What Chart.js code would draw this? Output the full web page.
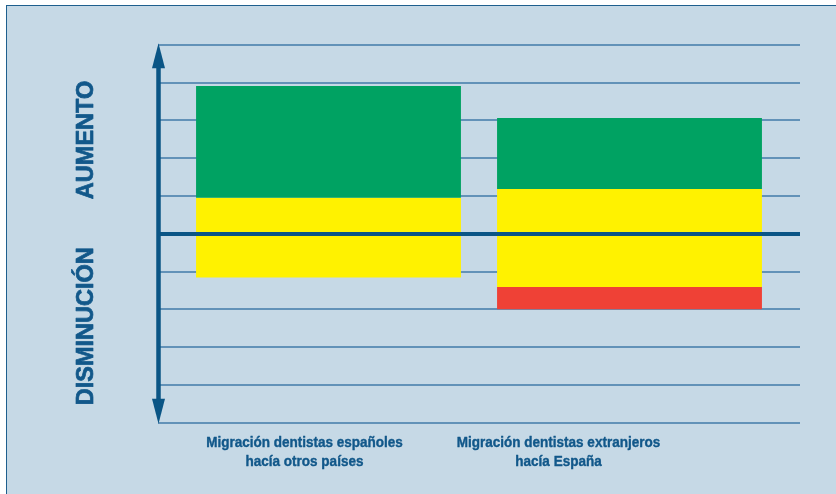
<!doctype html>
<html lang="es"><head><meta charset="utf-8">
<title>Migración de dentistas</title>
<script src="https://cdn.jsdelivr.net/npm/chart.js@4.4.0/dist/chart.umd.min.js"></script>
<style>
  html,body{margin:0;background:#fff}
  .wrap{position:absolute;left:0;top:0;width:836px;height:494px;overflow:hidden}
  .frame{position:absolute;left:6px;top:5px;width:840px;height:500px;background:#c6d9e6;border-left:1.5px solid #1e5f8e;border-top:1.5px solid #1e5f8e}
  canvas{position:absolute;left:0;top:0}
</style></head><body>
<div class="wrap">
  <div class="frame"></div>
  <canvas id="c" width="836" height="494"></canvas>
</div>
<script>
// categorías (eje x) y tramos de cada barra flotante [desde, hasta]
const CATEGORIES = [
  ['Migración dentistas españoles', 'hacía otros países'],
  ['Migración dentistas extranjeros', 'hacía España']
];
const GREEN = [[0.95, 3.91], [1.18, 3.06]];
const YELLOW = [[-1.16, 0.95], [-1.41, 1.18]];
const RED = [null, [-2.0, -1.41]];
const Y_MIN = -5, Y_MAX = 5, Y_STEP = 1;
const SIDE_LABELS = ['AUMENTO', 'DISMINUCIÓN'];

const DARK = '#0a5585';
const GRID = '#6292b8';
const TEXT = '#12588a';
const GRID_LEFT = 158, GRID_RIGHT = 800;

// líneas de la rejilla a lo ancho (por debajo de las barras)
const grid = {
  id: 'grid',
  beforeDatasetsDraw(chart) {
    const { ctx, scales: { y } } = chart;
    ctx.save();
    ctx.strokeStyle = GRID; ctx.lineWidth = 2;
    y.ticks.forEach(t => {
      if (t.value === 0) return;
      const py = Math.round(y.getPixelForValue(t.value));
      ctx.beginPath(); ctx.moveTo(GRID_LEFT, py); ctx.lineTo(GRID_RIGHT, py); ctx.stroke();
    });
    ctx.restore();
  }
};

// texto un poco más grueso, como en el original
function boldText(ctx, t, x, y) {
  ctx.fillText(t, x, y);
  ctx.strokeText(t, x, y);
}

// eje con flechas, línea cero por encima de las barras y rótulos
const decor = {
  id: 'decor',
  afterDatasetsDraw(chart) {
    const { ctx, scales: { y, x } } = chart;
    const ax = 158.5;
    const top = y.getPixelForValue(Y_MAX) - 1.5;
    const bot = y.getPixelForValue(Y_MIN) + 1;
    const z = Math.round(y.getPixelForValue(0));
    ctx.save();
    ctx.strokeStyle = DARK; ctx.lineWidth = 4;
    ctx.beginPath(); ctx.moveTo(GRID_LEFT, z); ctx.lineTo(GRID_RIGHT, z); ctx.stroke();
    ctx.lineWidth = 4.5;
    ctx.beginPath(); ctx.moveTo(ax, top + 18); ctx.lineTo(ax, bot - 18); ctx.stroke();
    ctx.fillStyle = DARK;
    ctx.beginPath(); ctx.moveTo(ax, top); ctx.lineTo(ax - 6.5, top + 25); ctx.lineTo(ax + 6.5, top + 25); ctx.closePath(); ctx.fill();
    ctx.beginPath(); ctx.moveTo(ax, bot); ctx.lineTo(ax - 6.5, bot - 25); ctx.lineTo(ax + 6.5, bot - 25); ctx.closePath(); ctx.fill();
    // rótulos laterales
    ctx.fillStyle = TEXT; ctx.strokeStyle = TEXT; ctx.lineWidth = 0.7; ctx.lineJoin = 'round';
    ctx.font = 'bold 23.5px "Liberation Sans", Arial, sans-serif';
    ctx.textAlign = 'center'; ctx.textBaseline = 'middle';
    const pos = [y.getPixelForValue(2.48), y.getPixelForValue(-2.45)];
    SIDE_LABELS.forEach((t, i) => {
      ctx.save();
      ctx.translate(87, pos[i]);
      ctx.rotate(-Math.PI / 2);
      boldText(ctx, t, 0, 0);
      ctx.restore();
    });
    // rótulos de categorías
    ctx.font = 'bold 15px "Liberation Sans", Arial, sans-serif';
    ctx.lineWidth = 0.4;
    const cx = [x.getPixelForValue(0) - 24, x.getPixelForValue(1) - 71];
    CATEGORIES.forEach((lines, i) => {
      lines.forEach((t, j) => {
        ctx.save();
        ctx.translate(cx[i], 443 + j * 19);
        ctx.scale(0.9, 1);
        boldText(ctx, t, 0, 0);
        ctx.restore();
      });
    });
    ctx.restore();
  }
};

const barOpts = { grouped: false, categoryPercentage: 1, barPercentage: 0.88, borderWidth: 0 };

new Chart(document.getElementById('c'), {
  type: 'bar',
  data: {
    labels: CATEGORIES,
    datasets: [
      { label: 'verde', data: GREEN, backgroundColor: '#00a262', ...barOpts },
      { label: 'amarillo', data: YELLOW, backgroundColor: '#fff200', ...barOpts },
      { label: 'rojo', data: RED, backgroundColor: '#ef4136', ...barOpts }
    ]
  },
  options: {
    responsive: false, animation: false,
    layout: { padding: { left: 178, right: 56, top: 44.7, bottom: 71.3 } },
    plugins: { legend: { display: false }, tooltip: { enabled: false } },
    scales: {
      x: { display: false, offset: true },
      y: {
        display: false,
        min: Y_MIN, max: Y_MAX,
        ticks: { stepSize: Y_STEP }
      }
    }
  },
  plugins: [grid, decor]
});
</script>
</body></html>
